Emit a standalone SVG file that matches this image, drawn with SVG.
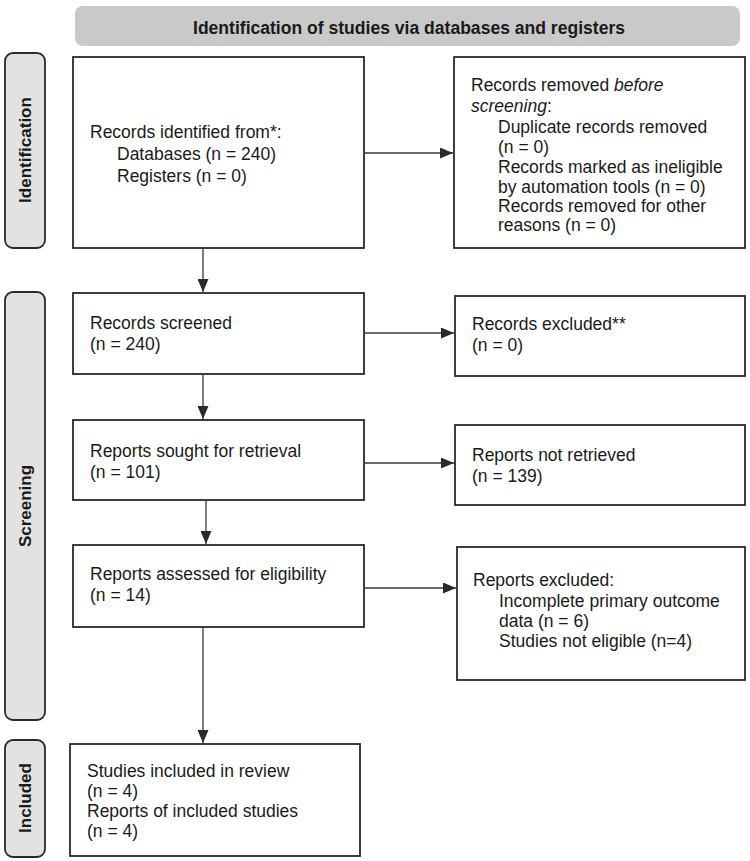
<svg xmlns="http://www.w3.org/2000/svg" width="750" height="861" viewBox="0 0 750 861">
<defs>
<marker id="ah" markerWidth="13" markerHeight="11" refX="13" refY="5.5" orient="auto" markerUnits="userSpaceOnUse">
<path d="M0,0 L13,5.5 L0,11 Z" fill="#2a2a2a"/>
</marker>
<style>
.box{fill:#fff;stroke:#2a2a2a;stroke-width:1.8}
.phase{fill:#e2e2e2;stroke:#2a2a2a;stroke-width:1.8}
.t{font-family:"Liberation Sans",Arial,sans-serif;font-size:17.5px;fill:#1a1a1a}
.pt{font-family:"Liberation Sans",Arial,sans-serif;font-size:17px;font-weight:bold;fill:#1a1a1a}
.ht{font-family:"Liberation Sans",Arial,sans-serif;font-size:18px;font-weight:bold;fill:#1a1a1a}
.c{stroke:#3a3a3a;stroke-width:1.3;fill:none;marker-end:url(#ah)}
</style>
</defs>
<rect width="750" height="861" fill="#fff"/>
<g id="header">
<rect x="75" y="6" width="665" height="40" rx="8" fill="#c9c9c9"/>
<text x="409" y="34" class="ht" text-anchor="middle" textLength="432" lengthAdjust="spacingAndGlyphs">Identification of studies via databases and registers</text>
</g>
<g id="phase-identification">
<rect x="5" y="53" width="40" height="195" rx="8" class="phase"/>
<text class="pt" transform="translate(31,150) rotate(-90)" text-anchor="middle">Identification</text>
</g>
<g id="phase-screening">
<rect x="5" y="292" width="40" height="428" rx="8" class="phase"/>
<text class="pt" transform="translate(31,506) rotate(-90)" text-anchor="middle">Screening</text>
</g>
<g id="phase-included">
<rect x="5" y="740" width="40" height="117" rx="8" class="phase"/>
<text class="pt" transform="translate(31,798) rotate(-90)" text-anchor="middle">Included</text>
</g>
<g id="node-identified">
<rect x="73" y="57" width="291" height="191" class="box"/>
<text class="t" x="90" y="138">Records identified from*:</text>
<text class="t" x="117" y="160">Databases (n = 240)</text>
<text class="t" x="117" y="182">Registers (n = 0)</text>
</g>
<g id="node-removed">
<rect x="454" y="57" width="291" height="191" class="box"/>
<text class="t" x="471" y="91">Records removed <tspan font-style="italic">before</tspan></text>
<text class="t" x="471" y="112"><tspan font-style="italic">screening</tspan>:</text>
<text class="t" x="498" y="133">Duplicate records removed</text>
<text class="t" x="498" y="153">(n = 0)</text>
<text class="t" x="498" y="173">Records marked as ineligible</text>
<text class="t" x="498" y="193">by automation tools (n = 0)</text>
<text class="t" x="498" y="212">Records removed for other</text>
<text class="t" x="498" y="231">reasons (n = 0)</text>
</g>
<g id="node-screened">
<rect x="73" y="293" width="291" height="81" class="box"/>
<text class="t" x="90" y="329">Records screened</text>
<text class="t" x="90" y="350">(n = 240)</text>
</g>
<g id="node-excluded">
<rect x="455" y="296" width="290" height="80" class="box"/>
<text class="t" x="472" y="330">Records excluded**</text>
<text class="t" x="472" y="351">(n = 0)</text>
</g>
<g id="node-sought">
<rect x="73" y="420" width="291" height="80" class="box"/>
<text class="t" x="90" y="457">Reports sought for retrieval</text>
<text class="t" x="90" y="478">(n = 101)</text>
</g>
<g id="node-notretrieved">
<rect x="455" y="425" width="290" height="80" class="box"/>
<text class="t" x="472" y="461">Reports not retrieved</text>
<text class="t" x="472" y="482">(n = 139)</text>
</g>
<g id="node-assessed">
<rect x="73" y="545" width="291" height="82" class="box"/>
<text class="t" x="90" y="580">Reports assessed for eligibility</text>
<text class="t" x="90" y="601">(n = 14)</text>
</g>
<g id="node-reportsexcluded">
<rect x="457" y="547" width="288" height="133" class="box"/>
<text class="t" x="473" y="586">Reports excluded:</text>
<text class="t" x="499" y="607">Incomplete primary outcome</text>
<text class="t" x="499" y="627">data (n = 6)</text>
<text class="t" x="499" y="647">Studies not eligible (n=4)</text>
</g>
<g id="node-included">
<rect x="70" y="744" width="290" height="112" class="box"/>
<text class="t" x="87" y="777">Studies included in review</text>
<text class="t" x="87" y="797">(n = 4)</text>
<text class="t" x="87" y="817">Reports of included studies</text>
<text class="t" x="87" y="837">(n = 4)</text>
</g>
<g id="connectors">
<line class="c" x1="364" y1="153" x2="453" y2="153"/>
<line class="c" x1="203" y1="248" x2="203" y2="292"/>
<line class="c" x1="364" y1="333" x2="454" y2="333"/>
<line class="c" x1="203" y1="374" x2="203" y2="419"/>
<line class="c" x1="364" y1="463" x2="454" y2="463"/>
<line class="c" x1="206" y1="500" x2="206" y2="544"/>
<line class="c" x1="364" y1="588" x2="456" y2="588"/>
<line class="c" x1="203" y1="627" x2="203" y2="743"/>
</g>
</svg>
